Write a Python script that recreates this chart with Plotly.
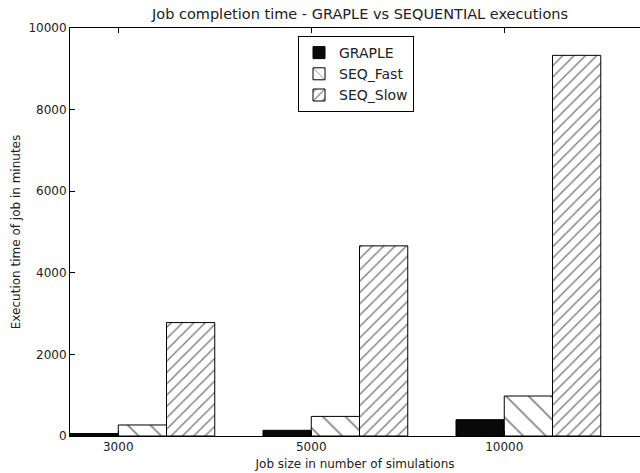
import plotly.graph_objects as go

categories = ["3000", "5000", "10000"]
graple = [60, 140, 400]
seq_fast = [270, 480, 980]
seq_slow = [2780, 4660, 9330]

series_names = ["GRAPLE", "SEQ_Fast", "SEQ_Slow"]
bar_width = 0.25

idx = list(range(len(categories)))
fig = go.Figure()

styles = [
    dict(color="#0a0a0a", pattern=dict(shape="")),
    dict(color="white", pattern=dict(shape="\\", size=16, solidity=0.1, fgcolor="black", bgcolor="white")),
    dict(color="white", pattern=dict(shape="/", size=8, solidity=0.18, fgcolor="black", bgcolor="white")),
]

for k, (name, vals) in enumerate(zip(series_names, [graple, seq_fast, seq_slow])):
    xs = [i + bar_width * (k + 0.5) for i in idx]
    fig.add_trace(go.Bar(
        x=xs, y=vals, width=bar_width, name=name,
        marker=dict(color=styles[k]["color"], pattern=styles[k]["pattern"],
                    line=dict(color="black", width=1)),
    ))

fig.update_layout(
    width=640, height=473,
    margin=dict(l=70, r=0, t=28, b=37),
    paper_bgcolor="white", plot_bgcolor="white",
    barmode="overlay",
    font=dict(family="DejaVu Sans", size=12, color="black"),
    title=dict(text="Job completion time - GRAPLE vs SEQUENTIAL executions",
               x=360/640, xanchor="center", y=1 - 14/473, yanchor="middle",
               font=dict(size=14.5, color="#222")),
    legend=dict(x=(298-70)/570, y=1 - (36-28)/408, xanchor="left", yanchor="top",
                bordercolor="black", borderwidth=1, bgcolor="white",
                font=dict(size=14, color="#222"), tracegroupgap=2, itemwidth=30),
    showlegend=True,
)

fig.update_xaxes(
    range=[0, 570/193], tickvals=[i + bar_width for i in idx], ticktext=categories,
    showline=True, linecolor="black", linewidth=1, mirror="ticks",
    ticks="inside", ticklen=5, tickcolor="black", showgrid=False, zeroline=False,
    title=dict(text="Job size in number of simulations", font=dict(size=12, color="#222"), standoff=6),
    tickfont=dict(size=12, color="#222"),
)
fig.update_yaxes(
    range=[0, 10000], tickvals=[0, 2000, 4000, 6000, 8000, 10000], tickformat="d",
    showline=True, linecolor="black", linewidth=1,
    ticks="inside", ticklen=5, tickcolor="black", showgrid=False, zeroline=False,
    title=dict(text="Execution time of job in minutes", font=dict(size=12, color="#222"), standoff=5),
    tickfont=dict(size=12, color="#222"),
)

fig.write_html("out.html", config={"displayModeBar": False},
               post_script="document.body.style.margin='0';document.body.style.overflow='hidden';")
